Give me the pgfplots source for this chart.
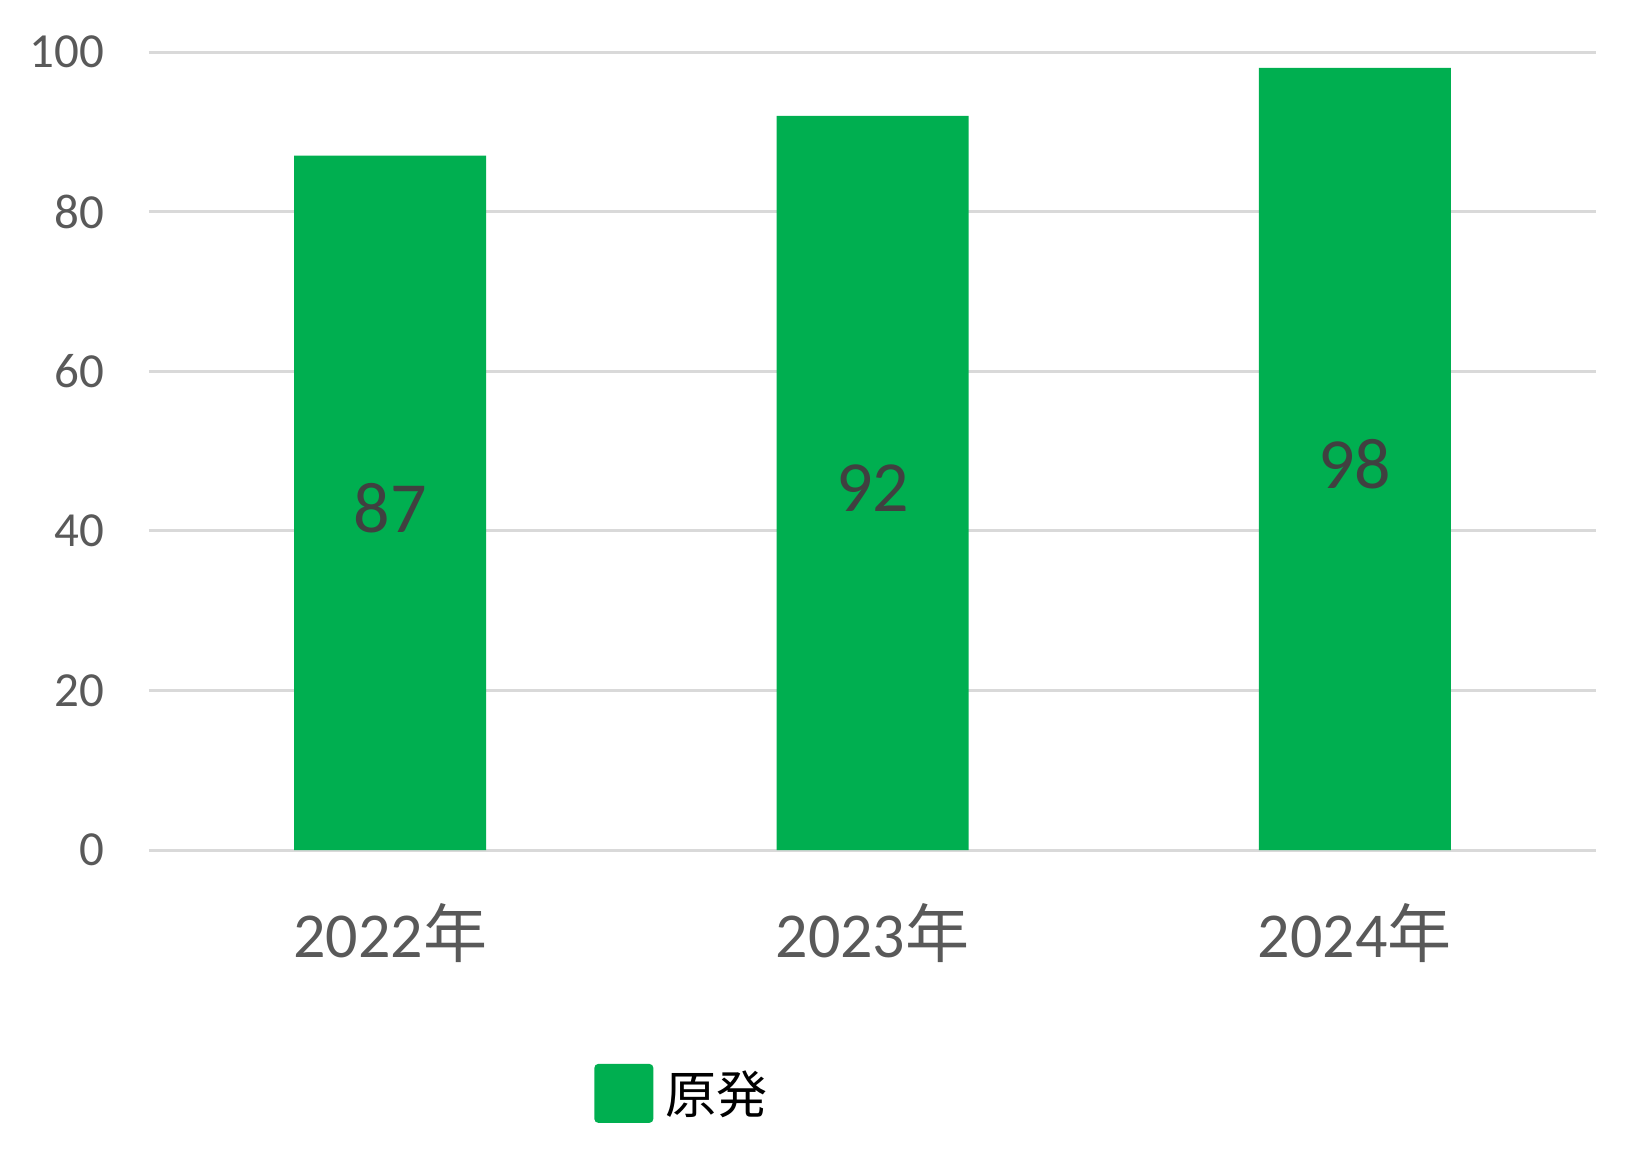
\documentclass[border=0pt]{standalone}
\usepackage{fontspec}
\usepackage{pgfplots}
\pgfplotsset{compat=1.18}
\setmainfont{Carlito}
\newfontfamily\jp{Noto Sans CJK JP}
\definecolor{barg}{HTML}{00AF50}
\definecolor{tickc}{HTML}{595959}
\definecolor{labc}{HTML}{404040}
\definecolor{gridc}{HTML}{D9D9D9}
\begin{document}
\begin{tikzpicture}
\begin{axis}[
  at={(0,0)}, anchor=south west,
  scale only axis,
  width=723.5pt, height=399pt,
  xmin=-0.5, xmax=2.5,
  ymin=0, ymax=100,
  ytick={0,20,40,60,80,100},
  xtick=data,
  xticklabels={2022{\jp 年},2023{\jp 年},2024{\jp 年}},
  axis line style={draw=none},
  major tick length=0pt,
  ymajorgrids,
  grid style={draw=gridc, line width=1.5pt},
  /pgf/number format/assume math mode=true,
  yticklabel style={font=\fontsize{24.5}{24.5}\selectfont, text=tickc, xshift=-19pt},
  xticklabel style={font=\fontsize{32}{32}\selectfont, text=tickc, yshift=-23pt},
  ybar, bar width=96pt,
  nodes near coords,
  visualization depends on={y \as \rawy},
  every node near coord/.append style={anchor=center, text=labc,
    font=\fontsize{36}{36}\selectfont, shift={(axis direction cs:0,-\rawy/2)}, yshift=-2.5pt},
  legend style={at={(axis description cs:0.3075,-0.305)}, anchor=west,
    draw=none, fill=none, inner sep=0pt, font=\jp\fontsize{25.5}{25.5}\selectfont,
    nodes={inner sep=0pt}},
  legend image code/.code={\fill[barg, rounded corners=2pt] (0pt,-14.75pt) rectangle (29.5pt,14.75pt);},
]
\addplot[draw=none, fill=barg] coordinates {(0,87) (1,92) (2,98)};
\addlegendentry{\hspace*{6pt}原発}
\end{axis}
\path[use as bounding box] (-74.5pt,-154pt) rectangle (748.5pt,425pt);
\end{tikzpicture}
\end{document}
